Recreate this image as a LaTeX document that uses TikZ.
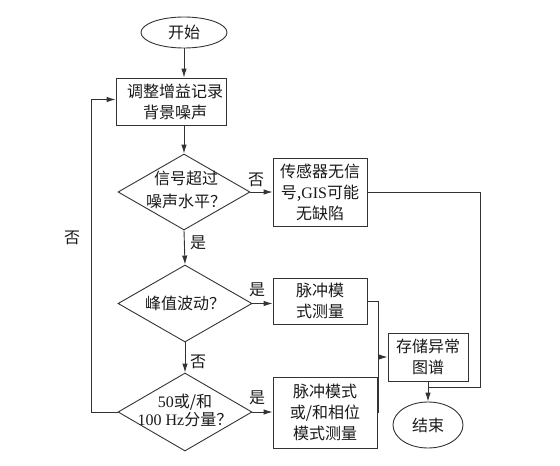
\documentclass[tikz,border=0pt]{standalone}
\usepackage{fontspec}
\setmainfont{Liberation Serif}
\newfontfamily\cjk{Noto Sans CJK SC}
\usetikzlibrary{shapes.geometric,arrows.meta}
\begin{document}
\begin{tikzpicture}[x=1pt,y=-1pt,
  every node/.style={font=\cjk\fontsize{16}{21}\selectfont, text=black!90},
  ln/.style={draw=black!80, line width=0.9pt},
  arr/.style={ln, -{Latex[length=9pt,width=5.5pt]}},
  boxn/.style={ln, rectangle, align=center, inner sep=0pt},
  dia/.style={ln, diamond, inner sep=0pt},
  oval/.style={ln, ellipse, inner sep=0pt},
  lab/.style={inner sep=0pt, align=center}]
\useasboundingbox (0,0) rectangle (560,466);
% nodes
\node[oval, minimum width=86, minimum height=31] (start) at (184,32.5) {开始};
\node[boxn, minimum width=110, minimum height=47] (b1) at (171,101.5) {\hspace*{8pt}调整增益记录\\\hspace*{8pt}背景噪声};
\node[dia, minimum width=132, minimum height=76] (d1) at (184,192) {};
\node[lab] (t1) at (186,190) {信号超过\\[2pt]噪声水平？};
\node[boxn, minimum width=94, minimum height=68] (b2) at (320,192) {传感器无信\\号,{\rmfamily GIS}可能\\无缺陷};
\node[dia, minimum width=134, minimum height=77] (d2) at (185,303.5) {};
\node[lab] (t2) at (185,303.5) {峰值波动？};
\node[boxn, minimum width=94, minimum height=46] (b3) at (320,301) {脉冲模\\式测量};
\node[dia, minimum width=134, minimum height=78] (d3) at (185,412) {};
\node[lab, font=\cjk\fontsize{16}{18}\selectfont] (t3) at (185,410) {{\rmfamily 50}或/和\\{\rmfamily 100 Hz}分量？};
\node[boxn, minimum width=104, minimum height=71] (b4) at (325,412.5) {脉冲模式\\或/和相位\\模式测量};
\node[boxn, minimum width=80, minimum height=48] (b5) at (428,357) {存储异常\\图谱};
\node[oval, minimum width=70, minimum height=46] (end) at (428,425) {结束};
% labels
\node[lab] (l1) at (256,180) {否};
\node[lab] (l2) at (198,243) {是};
\node[lab] (l3) at (257,290) {是};
\node[lab] (l4) at (198,362) {否};
\node[lab] (l5) at (257,398) {是};
\node[lab] (l6) at (72,238) {否};
% coordinates
\coordinate (m) at (378,357);
\coordinate (j) at (428,387);
% connectors
\draw[arr] (start.south) -- (start.south |- b1.north);
\draw[arr] (d1.north |- b1.south) -- (d1.north);
\draw[arr] (d1.east) -- (d1.east -| b2.west);
\draw[arr] (d1.south) -- (d2.north);
\draw[arr] (d2.east) -- (d2.east -| b3.west);
\draw[arr] (d2.south) -- (d3.north);
\draw[arr] (d3.east) -- (d3.east -| b4.west);
\draw[arr] (d3.west) -- ++(-26,0) |- ([yshift=2pt]b1.west);
\draw[ln] (b3.east) -| (m);
\draw[ln] (b4.east) -| (m);
\draw[arr] (m) -- (b5.west);
\draw[ln] (b2.east) -- ++(113,0) |- (j);
\draw[arr] (b5.south) -- (end.north);
\end{tikzpicture}
\end{document}
